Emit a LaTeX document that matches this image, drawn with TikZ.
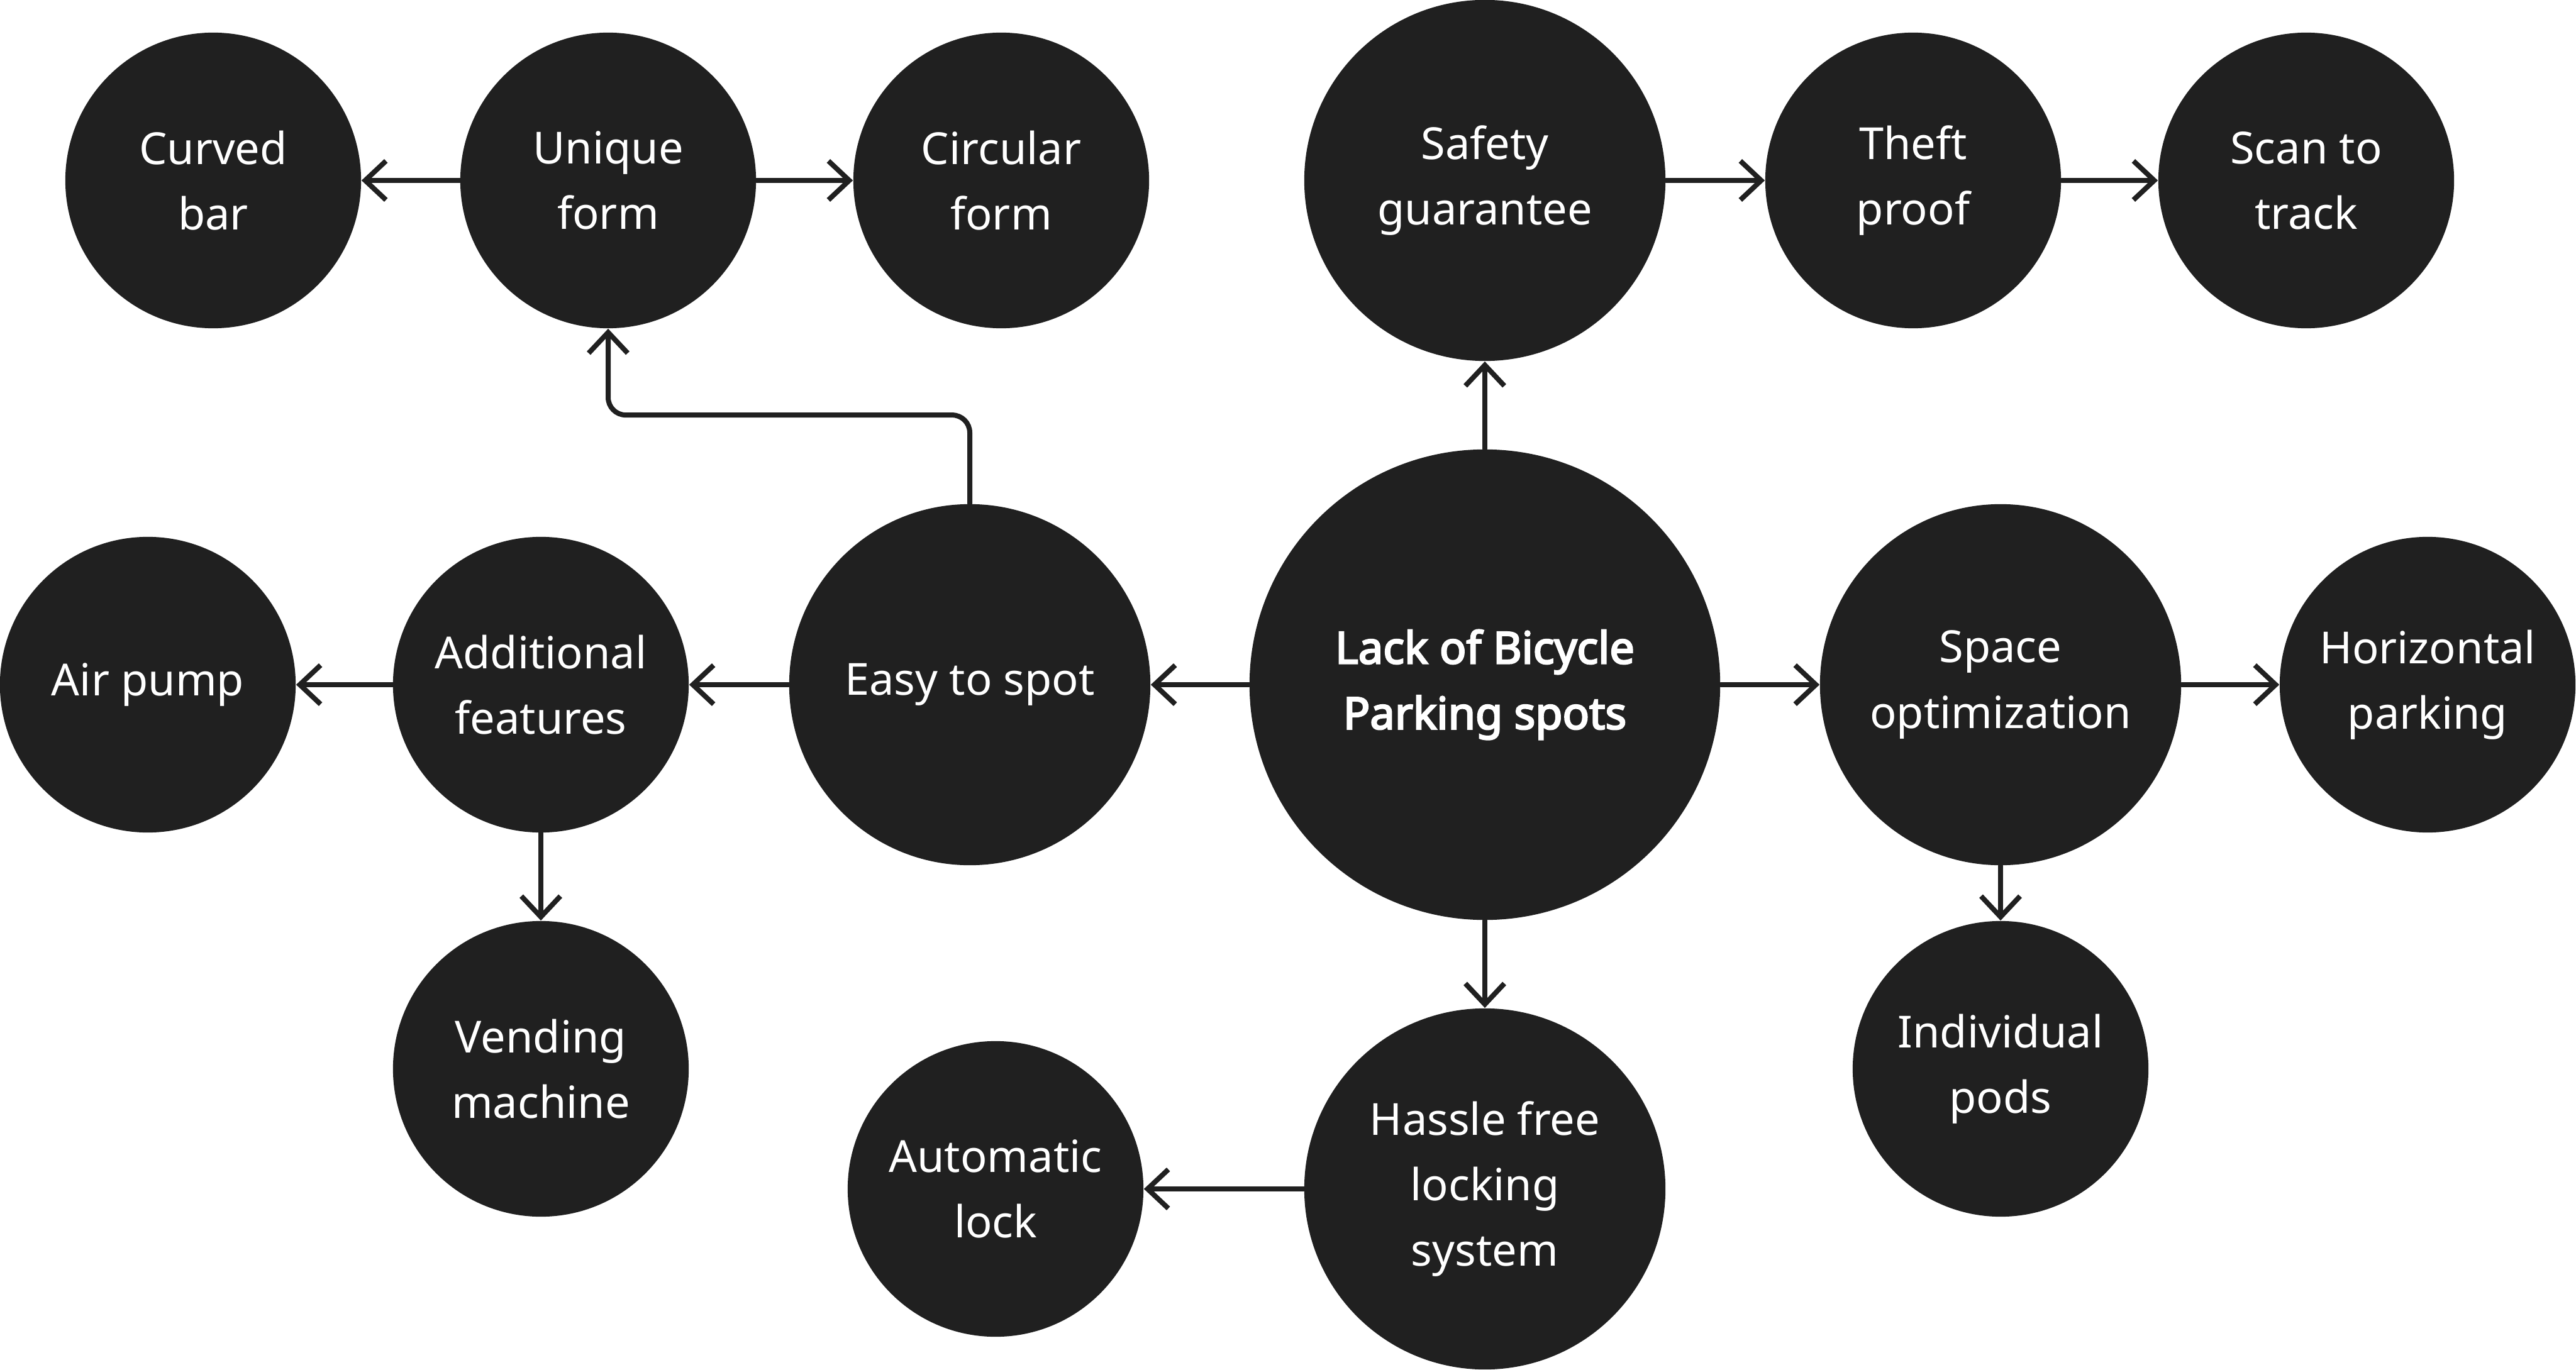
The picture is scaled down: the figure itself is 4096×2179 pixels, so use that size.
\documentclass[tikz,border=0pt]{standalone}
\usepackage{fontspec}
\setmainfont{Noto Sans}
\newfontfamily\heavyfont{Noto Sans}[FakeBold=3.6]
\usetikzlibrary{arrows.meta}
\definecolor{bubble}{RGB}{32,32,32}

\begin{document}
\begin{tikzpicture}[x=0.01cm, y=-0.01cm,
  idea/.style={circle, fill=bubble, text=white, inner sep=0pt, align=center,
    font=\fontsize{20}{29.6}\selectfont},
  small/.style={idea, minimum size=4.7cm},
  mid/.style={idea, minimum size=5.74cm},
  big/.style={idea, minimum size=7.48cm, font=\fontsize{20}{29.6}\heavyfont},
  link/.style={draw=bubble, line width=0.08cm, line cap=round,
    -{Straight Barb[length=3.3mm, width=6.2mm]}}]
  \useasboundingbox (0,0) rectangle (4096,2179);
  % centre problem
  \node[big] (lack) at (2361,1089) {Lack of Bicycle\\Parking spots};
  % top row
  \node[small] (curved) at (339,287) {Curved\\bar};
  \node[small] (unique) at (967,287) {Unique\\form};
  \node[small] (circular) at (1592,287) {Circular\\form};
  \node[mid] (safety) at (2361,287) {Safety\\guarantee};
  \node[small] (theft) at (3042,287) {Theft\\proof};
  \node[small] (scan) at (3667,287) {Scan to\\track};
  % middle row
  \node[small] (airpump) at (235,1089) {Air pump};
  \node[small] (additional) at (860,1089) {Additional\\features};
  \node[mid] (easy) at (1542,1089) {Easy to spot};
  \node[mid] (space) at (3181,1089) {Space\\optimization};
  \node[small] (horizontal) at (3860,1089) {Horizontal\\parking};
  % bottom row
  \node[small] (vending) at (860,1700) {Vending\\machine};
  \node[small] (autolock) at (1583,1891) {Automatic\\lock};
  \node[mid] (hassle) at (2361,1891) {Hassle free\\locking\\system};
  \node[small] (pods) at (3181,1700) {Individual\\pods};
  % connectors
  \draw[link] (unique) -- (curved);
  \draw[link] (unique) -- (circular);
  \draw[link] (safety) -- (theft);
  \draw[link] (theft) -- (scan);
  \draw[link] (lack) -- (safety);
  \draw[link] (lack) -- (easy);
  \draw[link] (easy) -- (additional);
  \draw[link] (additional) -- (airpump);
  \draw[link] (additional) -- (vending);
  \draw[link] (lack) -- (space);
  \draw[link] (space) -- (horizontal);
  \draw[link] (space) -- (pods);
  \draw[link] (lack) -- (hassle);
  \draw[link] (hassle) -- (autolock);
  \draw[link, rounded corners=0.28cm] (easy.north) -- ++(0,-141) -| (unique.south);
\end{tikzpicture}
\end{document}
